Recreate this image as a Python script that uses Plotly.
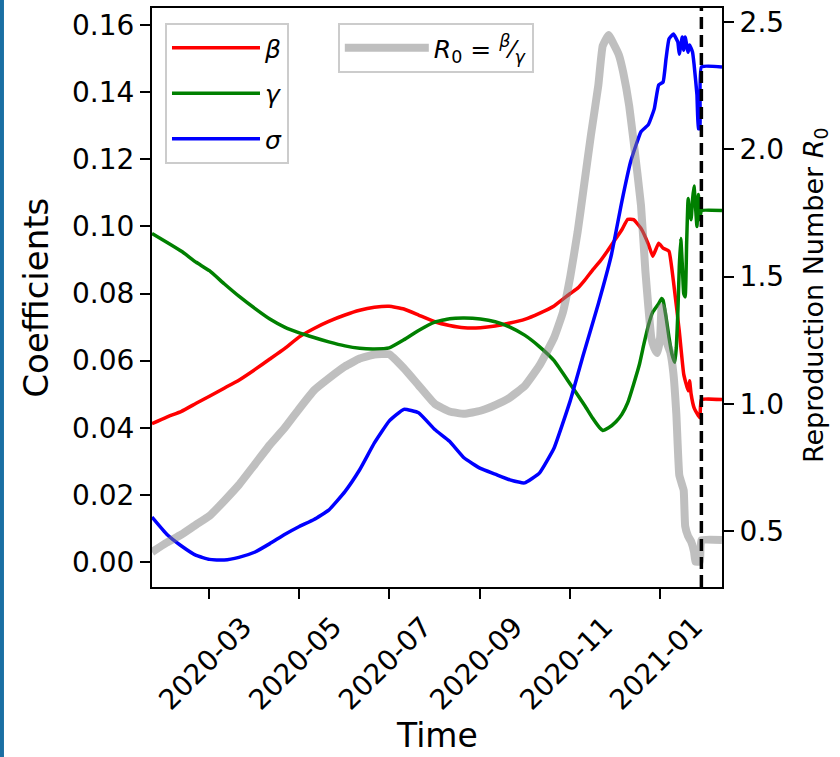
import plotly.graph_objects as go

FONT = "DejaVu Sans"

# ---------------- data ----------------
beta_dates = ["2020-01-22", "2020-02-01", "2020-02-11", "2020-02-21", "2020-03-01", "2020-03-11",
              "2020-03-21", "2020-04-01", "2020-04-11", "2020-04-21", "2020-05-01", "2020-05-11",
              "2020-05-21", "2020-06-01", "2020-06-11", "2020-06-21", "2020-07-01", "2020-07-11",
              "2020-07-21", "2020-08-01", "2020-08-11", "2020-08-21", "2020-09-01", "2020-09-11",
              "2020-09-21", "2020-10-01", "2020-10-11", "2020-10-21", "2020-11-01", "2020-11-06",
              "2020-11-11", "2020-11-16", "2020-11-21", "2020-11-26", "2020-12-01", "2020-12-06",
              "2020-12-10", "2020-12-14", "2020-12-19", "2020-12-24", "2020-12-27", "2020-12-31",
              "2021-01-03", "2021-01-07", "2021-01-10", "2021-01-14", "2021-01-17", "2021-01-20",
              "2021-01-21", "2021-01-22", "2021-01-24", "2021-01-27", "2021-01-28", "2021-01-29",
              "2021-02-12"]
beta_vals = [0.0412, 0.0432, 0.0449, 0.0473, 0.0494, 0.0518,
             0.0542, 0.0574, 0.0605, 0.0636, 0.0671, 0.0696,
             0.0717, 0.0736, 0.0750, 0.0759, 0.0762, 0.0754,
             0.0736, 0.0716, 0.0705, 0.0698, 0.0698, 0.0703,
             0.0712, 0.0723, 0.0741, 0.0763, 0.0800, 0.0816,
             0.0841, 0.0869, 0.0895, 0.0925, 0.0958, 0.0990,
             0.1021, 0.1020, 0.0994, 0.0947, 0.0911, 0.0950,
             0.0935, 0.0926, 0.0837, 0.0688, 0.0560, 0.0510,
             0.0540, 0.0501, 0.0460, 0.0436, 0.0430, 0.0484,
             0.0484]

gamma_dates = ["2020-01-22", "2020-02-01", "2020-02-11", "2020-02-21", "2020-03-01", "2020-03-11",
               "2020-03-21", "2020-04-01", "2020-04-11", "2020-04-21", "2020-05-01", "2020-05-11",
               "2020-05-21", "2020-06-01", "2020-06-11", "2020-06-21", "2020-07-01", "2020-07-11",
               "2020-07-21", "2020-08-01", "2020-08-11", "2020-08-21", "2020-09-01", "2020-09-11",
               "2020-09-21", "2020-10-01", "2020-10-11", "2020-10-21", "2020-11-01", "2020-11-06",
               "2020-11-11", "2020-11-16", "2020-11-21", "2020-11-23", "2020-11-27", "2020-12-02",
               "2020-12-06", "2020-12-10", "2020-12-14", "2020-12-18", "2020-12-21", "2020-12-24",
               "2020-12-27", "2020-12-31", "2021-01-02", "2021-01-03", "2021-01-05", "2021-01-07",
               "2021-01-09", "2021-01-11", "2021-01-12", "2021-01-13", "2021-01-14", "2021-01-15",
               "2021-01-16", "2021-01-17", "2021-01-18", "2021-01-19", "2021-01-20", "2021-01-21",
               "2021-01-22", "2021-01-23", "2021-01-24", "2021-01-25", "2021-01-26", "2021-01-27",
               "2021-01-28", "2021-01-29", "2021-02-12"]
gamma_vals = [0.0979, 0.0953, 0.0926, 0.0893, 0.0868, 0.0829,
              0.0792, 0.0755, 0.0724, 0.0700, 0.0683, 0.0669,
              0.0656, 0.0644, 0.0637, 0.0635, 0.0638, 0.0662,
              0.0690, 0.0715, 0.0725, 0.0727, 0.0724, 0.0716,
              0.0700, 0.0676, 0.0642, 0.0600, 0.0530, 0.0498,
              0.0465, 0.0430, 0.0400, 0.0392, 0.0400, 0.0418,
              0.0440, 0.0475, 0.0530, 0.0590, 0.0650, 0.0705,
              0.0745, 0.0770, 0.0785, 0.0780, 0.0730, 0.0670,
              0.0620, 0.0595, 0.0640, 0.0740, 0.0880, 0.0964,
              0.0890, 0.0800, 0.0790, 0.0950, 0.1083, 0.1040,
              0.1020, 0.1080, 0.1120, 0.1060, 0.1000, 0.1095,
              0.1020, 0.1047, 0.1047]

sigma_dates = ["2020-01-22", "2020-02-01", "2020-02-11", "2020-02-21", "2020-03-01", "2020-03-11",
               "2020-03-21", "2020-04-01", "2020-04-11", "2020-04-21", "2020-05-01", "2020-05-11",
               "2020-05-21", "2020-06-01", "2020-06-11", "2020-06-21", "2020-07-01", "2020-07-11",
               "2020-07-21", "2020-08-01", "2020-08-11", "2020-08-21", "2020-09-01", "2020-09-11",
               "2020-09-21", "2020-10-01", "2020-10-11", "2020-10-21", "2020-11-01", "2020-11-10",
               "2020-11-20", "2020-11-29", "2020-12-06", "2020-12-12", "2020-12-19", "2020-12-24",
               "2020-12-28", "2020-12-31", "2021-01-03", "2021-01-05", "2021-01-07", "2021-01-10",
               "2021-01-13", "2021-01-14", "2021-01-16", "2021-01-17", "2021-01-18", "2021-01-20",
               "2021-01-21", "2021-01-23", "2021-01-24", "2021-01-26", "2021-01-27", "2021-01-28",
               "2021-01-29", "2021-02-12"]
sigma_vals = [0.0134, 0.0083, 0.0048, 0.0020, 0.0008, 0.0006,
              0.0014, 0.0030, 0.0055, 0.0082, 0.0106, 0.0127,
              0.0155, 0.0210, 0.0275, 0.0355, 0.0420, 0.0455,
              0.0445, 0.0395, 0.0360, 0.0310, 0.0279, 0.0262,
              0.0245, 0.0236, 0.0265, 0.0340, 0.0481, 0.0620,
              0.0769, 0.0917, 0.1074, 0.1193, 0.1282, 0.1303,
              0.1350, 0.1421, 0.1430, 0.1499, 0.1558, 0.1573,
              0.1549, 0.1513, 0.1564, 0.1525, 0.1564, 0.1519,
              0.1540, 0.1519, 0.1484, 0.1392, 0.1291, 0.1291,
              0.1475, 0.1475]

r0_dates = ["2020-01-22", "2020-02-01", "2020-02-11", "2020-02-21", "2020-03-01", "2020-03-11",
            "2020-03-21", "2020-04-01", "2020-04-11", "2020-04-21", "2020-05-01", "2020-05-11",
            "2020-05-21", "2020-06-01", "2020-06-11", "2020-06-21", "2020-07-01", "2020-07-11",
            "2020-07-21", "2020-08-01", "2020-08-11", "2020-08-21", "2020-09-01", "2020-09-11",
            "2020-09-21", "2020-10-01", "2020-10-11", "2020-10-21", "2020-10-27", "2020-11-01",
            "2020-11-06", "2020-11-10", "2020-11-15", "2020-11-20", "2020-11-23", "2020-11-27",
            "2020-11-30", "2020-12-04", "2020-12-07", "2020-12-11", "2020-12-14", "2020-12-19",
            "2020-12-22", "2020-12-24", "2020-12-26", "2020-12-28", "2020-12-30", "2021-01-01",
            "2021-01-02", "2021-01-03", "2021-01-05", "2021-01-08", "2021-01-10", "2021-01-12",
            "2021-01-14", "2021-01-16", "2021-01-17", "2021-01-18", "2021-01-20", "2021-01-22",
            "2021-01-24", "2021-01-25", "2021-01-27", "2021-01-28", "2021-01-29", "2021-02-12"]
r0_vals = [0.418, 0.455, 0.487, 0.526, 0.560, 0.619,
           0.682, 0.764, 0.839, 0.905, 0.981, 1.053,
           1.100, 1.147, 1.178, 1.194, 1.195, 1.140,
           1.073, 1.000, 0.970, 0.961, 0.973, 0.995,
           1.025, 1.070, 1.150, 1.260, 1.360, 1.500,
           1.676, 1.844, 2.055, 2.250, 2.406, 2.449,
           2.418, 2.370, 2.300, 2.170, 2.030, 1.780,
           1.520, 1.380, 1.260, 1.220, 1.200, 1.260,
           1.380, 1.360, 1.250, 1.200, 1.120, 0.960,
           0.720, 0.680, 0.660, 0.520, 0.480, 0.460,
           0.420, 0.380, 0.380, 0.380, 0.465, 0.465]

cutoff_date = "2021-01-29"
x_range = ["2020-01-22", "2021-02-12"]
x_tick_dates = ["2020-03-01", "2020-05-01", "2020-07-01", "2020-09-01", "2020-11-01", "2021-01-01"]
x_tick_text = ["2020-03", "2020-05", "2020-07", "2020-09", "2020-11", "2021-01"]
y_ticks = [0.00, 0.02, 0.04, 0.06, 0.08, 0.10, 0.12, 0.14, 0.16]
y2_ticks = [0.5, 1.0, 1.5, 2.0, 2.5]

# ---------------- figure ----------------
fig = go.Figure()
smooth = dict(shape="spline", smoothing=0.35)
fig.add_trace(go.Scatter(x=beta_dates, y=beta_vals, mode="lines", name="<i>β</i>",
                         line=dict(color="#ff0000", width=3.5, **smooth), legend="legend",
                         legendgroup="b"))
fig.add_trace(go.Scatter(x=gamma_dates, y=gamma_vals, mode="lines", name="<i>γ</i>",
                         line=dict(color="#008000", width=3.5, **smooth), legend="legend",
                         legendgroup="g"))
fig.add_trace(go.Scatter(x=sigma_dates, y=sigma_vals, mode="lines", name="<i>σ</i>",
                         line=dict(color="#0000ff", width=3.5, **smooth), legend="legend",
                         legendgroup="s"))
fig.add_trace(go.Scatter(x=r0_dates, y=r0_vals, mode="lines", yaxis="y2",
                         name="<i>R</i><sub>0</sub> = <sup><i>β</i></sup>⁄<sub><i>γ</i></sub>",
                         line=dict(color="rgba(128,128,128,0.5)", width=8, **smooth),
                         legend="legend2"))

tickfont = dict(family=FONT, size=28, color="black")
annotations = []
for d, t in zip(x_tick_dates, x_tick_text):
    annotations.append(dict(x=d, xref="x", y=-0.1325, yref="paper", text=t, showarrow=False,
                            textangle=-45, xanchor="center", yanchor="middle", xshift=-4,
                            font=tickfont))
annotations.append(dict(x=0.5, xref="paper", y=-0.256, yref="paper", text="Time",
                        showarrow=False, xanchor="center", yanchor="middle",
                        font=dict(family=FONT, size=33, color="black")))
annotations.append(dict(x=-0.205, xref="paper", y=0.5, yref="paper", text="Coefficients",
                        showarrow=False, xanchor="center", yanchor="middle", textangle=-90,
                        font=dict(family=FONT, size=34, color="black")))
annotations.append(dict(x=1.163, xref="paper", y=0.504, yref="paper",
                        text="Reproduction Number <i>R</i><sub>0</sub>",
                        showarrow=False, xanchor="center", yanchor="middle", textangle=-90,
                        font=dict(family=FONT, size=27, color="black")))

axis_common = dict(showgrid=False, zeroline=False, showline=True, linecolor="black",
                   linewidth=2, ticks="outside", ticklen=10, tickwidth=2, tickcolor="black",
                   tickfont=tickfont)

shapes = [
    dict(type="rect", xref="paper", yref="paper", x0=-0.2667, x1=-0.2597,
         y0=-0.3, y1=1.02, fillcolor="#1a6fa3", line=dict(width=0), layer="below"),
    dict(type="line", xref="x", yref="paper", x0=cutoff_date, x1=cutoff_date, y0=0, y1=1,
         line=dict(color="black", width=3.5, dash="12px,6px"), layer="above"),
]

fig.update_layout(
    width=840, height=757,
    margin=dict(l=152, r=118, t=6, b=170),
    paper_bgcolor="white", plot_bgcolor="white",
    font=dict(family=FONT, color="black"),
    xaxis=dict(type="date", range=x_range, tickvals=x_tick_dates, showticklabels=False,
               mirror=True, **axis_common),
    yaxis=dict(range=[-0.00742, 0.16505], tickvals=y_ticks,
               ticktext=[f"{v:.2f}" for v in y_ticks], **axis_common),
    yaxis2=dict(range=[0.2808, 2.5548], tickvals=y2_ticks, overlaying="y", side="right",
                ticktext=[f"{v:.1f}" for v in y2_ticks], **axis_common),
    legend=dict(x=0.0228, y=0.974, xanchor="left", yanchor="top",
                bgcolor="rgba(255,255,255,0.8)", bordercolor="#cccccc", borderwidth=2,
                font=dict(family=FONT, size=25, color="black"), tracegroupgap=10,
                itemwidth=88),
    legend2=dict(x=0.326, y=0.974, xanchor="left", yanchor="top",
                 bgcolor="rgba(255,255,255,0.8)", bordercolor="#cccccc", borderwidth=2,
                 font=dict(family=FONT, size=25, color="black"), itemwidth=84),
    annotations=annotations,
    shapes=shapes,
    showlegend=True,
)

fig.write_html("out.html")
